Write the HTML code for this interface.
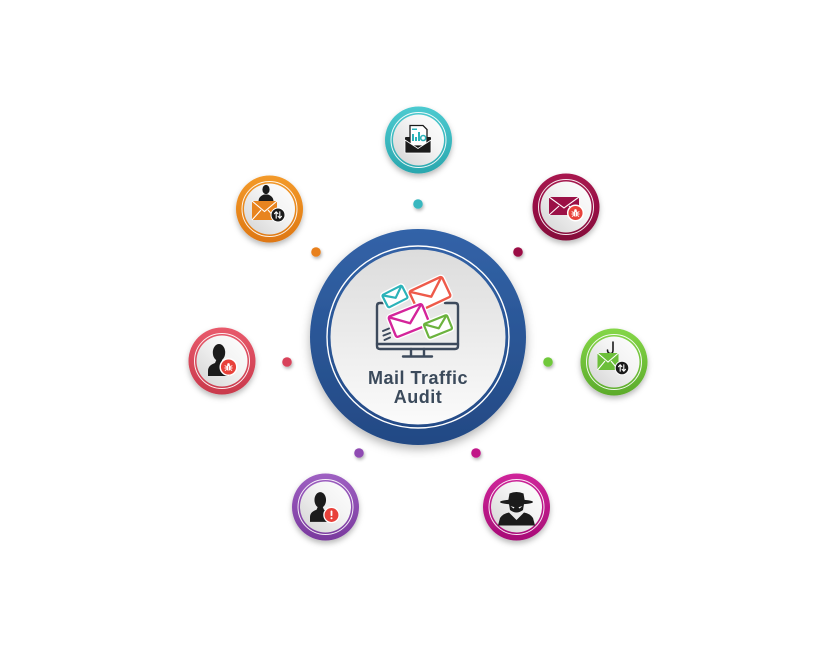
<!DOCTYPE html>
<html><head><meta charset="utf-8"><style>
html,body{margin:0;padding:0;background:#fff;}
svg{display:block;}
</style></head><body>
<svg width="835" height="659" viewBox="0 0 835 659" xmlns="http://www.w3.org/2000/svg">
<defs>
<filter id="sh" x="-40%" y="-40%" width="180%" height="180%"><feDropShadow dx="0" dy="3" stdDeviation="3" flood-color="#000" flood-opacity="0.28"/></filter>
<filter id="shB" x="-30%" y="-30%" width="160%" height="160%"><feDropShadow dx="0" dy="4" stdDeviation="5" flood-color="#000" flood-opacity="0.3"/></filter>
<filter id="shD" x="-100%" y="-100%" width="300%" height="300%"><feDropShadow dx="1" dy="2" stdDeviation="1.5" flood-color="#000" flood-opacity="0.3"/></filter>
<linearGradient id="gBlue" x1="0" y1="0" x2="0" y2="1"><stop offset="0" stop-color="#3263a8"/><stop offset="1" stop-color="#234984"/></linearGradient>
<linearGradient id="gGrayC" x1="0" y1="0" x2="0" y2="1"><stop offset="0" stop-color="#dcdcdc"/><stop offset="1" stop-color="#fbfbfb"/></linearGradient>
<linearGradient id="gIn" x1="0" y1="1" x2="1" y2="0"><stop offset="0" stop-color="#d3d3d3"/><stop offset="0.6" stop-color="#f4f4f4"/><stop offset="1" stop-color="#fefefe"/></linearGradient>
<linearGradient id="gTeal" x1="0" y1="0" x2="0" y2="1"><stop offset="0" stop-color="#4ccad0"/><stop offset="1" stop-color="#2aa7ae"/></linearGradient>
<linearGradient id="gOrange" x1="0" y1="0" x2="0" y2="1"><stop offset="0" stop-color="#f39a2a"/><stop offset="1" stop-color="#de7712"/></linearGradient>
<linearGradient id="gMaroon" x1="0" y1="0" x2="0" y2="1"><stop offset="0" stop-color="#a8154f"/><stop offset="1" stop-color="#850a3a"/></linearGradient>
<linearGradient id="gRed" x1="0" y1="0" x2="0" y2="1"><stop offset="0" stop-color="#e85a6b"/><stop offset="1" stop-color="#c9394c"/></linearGradient>
<linearGradient id="gGreen" x1="0" y1="0" x2="0" y2="1"><stop offset="0" stop-color="#84d647"/><stop offset="1" stop-color="#5cab2b"/></linearGradient>
<linearGradient id="gPurple" x1="0" y1="0" x2="0" y2="1"><stop offset="0" stop-color="#9e60c2"/><stop offset="1" stop-color="#7a399e"/></linearGradient>
<linearGradient id="gMag" x1="0" y1="0" x2="0" y2="1"><stop offset="0" stop-color="#cf259a"/><stop offset="1" stop-color="#a80d77"/></linearGradient>
<symbol id="person" viewBox="-11 0 22 32" overflow="visible">
<ellipse cx="0" cy="8.5" rx="6.2" ry="8.5" fill="#1b1b1b"/>
<path d="M-11,32 L-11,27 C-11,22.5 -8,20.5 -4,19 L-2.5,15.5 L2.5,15.5 L4,19 C8,20.5 11,22.5 11,27 L11,32 Z" fill="#1b1b1b"/>
</symbol>
<symbol id="bug" viewBox="-5 -5 10 10" overflow="visible">
<ellipse cx="0" cy="0.8" rx="2.3" ry="3" fill="#fff"/>
<circle cx="0" cy="-2.6" r="1.3" fill="#fff"/>
<path d="M-2.2,-0.5 L-3.8,-1.5 M2.2,-0.5 L3.8,-1.5 M-2.3,1 L-4,1 M2.3,1 L4,1 M-2,2.5 L-3.6,3.6 M2,2.5 L3.6,3.6" stroke="#fff" stroke-width="0.9" fill="none"/>
<line x1="0" y1="-1" x2="0" y2="3.6" stroke="#e8413a" stroke-width="0.6"/>
</symbol>
<symbol id="arrows" viewBox="-5 -5 10 10" overflow="visible">
<path d="M-1.8,3.2 L-1.8,-3 M-3.5,-1.3 L-1.8,-3.2 L-0.1,-1.3 M1.8,-3.2 L1.8,3 M0.1,1.3 L1.8,3.2 L3.5,1.3" stroke="#fff" stroke-width="1.1" fill="none" stroke-linecap="round" stroke-linejoin="round"/>
</symbol>
</defs>

<rect width="835" height="659" fill="#fff"/>

<!-- dots -->
<circle cx="418" cy="204" r="4.8" fill="#38b7bf" filter="url(#shD)"/>
<circle cx="316" cy="252" r="4.8" fill="#e8801e" filter="url(#shD)"/>
<circle cx="518" cy="252" r="4.8" fill="#9b0f45" filter="url(#shD)"/>
<circle cx="287" cy="362" r="4.8" fill="#d8425a" filter="url(#shD)"/>
<circle cx="548" cy="362" r="4.8" fill="#6fc83b" filter="url(#shD)"/>
<circle cx="359" cy="453" r="4.8" fill="#8f4cb2" filter="url(#shD)"/>
<circle cx="476" cy="453" r="4.8" fill="#c11488" filter="url(#shD)"/>

<!-- center -->
<circle cx="418" cy="337" r="108" fill="url(#gBlue)" filter="url(#shB)"/>
<circle cx="418" cy="337" r="91" fill="none" stroke="#fff" stroke-width="1.4"/>
<circle cx="418" cy="337" r="87.5" fill="url(#gGrayC)"/>

<!-- monitor -->
<g stroke="#3d4a5c" stroke-width="2.4" fill="none" stroke-linecap="round" stroke-linejoin="round">
<path d="M392,303 L380,303 Q377,303 377,306 L377,346 Q377,349 380,349 L455,349 Q458,349 458,346 L458,306 Q458,303 455,303 L445,303"/>
<line x1="377" y1="344" x2="458" y2="344"/>
<path d="M411,349 L411,356 M424,349 L424,356"/>
<line x1="403" y1="356.5" x2="432" y2="356.5"/>
<path d="M383,331 L389,328.5 M383.5,335.5 L390,333 M384.5,340 L390,337.5" stroke-width="2"/>
</g>
<!-- envelopes -->
<g transform="translate(395,296.5) rotate(-27)">
<rect x="-11" y="-7" width="22" height="14" rx="1.5" fill="#fff" stroke="#fff" stroke-width="5"/>
<rect x="-11" y="-7" width="22" height="14" rx="1.5" fill="#fff" stroke="#2bb3b9" stroke-width="2.2"/>
<path d="M-11,-7 L0,1.5 L11,-7" fill="none" stroke="#2bb3b9" stroke-width="2.2" stroke-linejoin="round"/>
</g>
<g transform="translate(430,294) rotate(-25)">
<rect x="-18" y="-11" width="36" height="22" rx="2" fill="#fff" stroke="#fff" stroke-width="5"/>
<rect x="-18" y="-11" width="36" height="22" rx="2" fill="#fff" stroke="#ee5a4a" stroke-width="2.4"/>
<path d="M-18,-11 L0,3 L18,-11" fill="none" stroke="#ee5a4a" stroke-width="2.4" stroke-linejoin="round"/>
</g>
<g transform="translate(409,320.5) rotate(-22)">
<rect x="-18" y="-11" width="36" height="22" rx="2" fill="#fff" stroke="#fff" stroke-width="5"/>
<rect x="-18" y="-11" width="36" height="22" rx="2" fill="#fff" stroke="#d4249a" stroke-width="2.4"/>
<path d="M-18,-11 L0,3 L18,-11" fill="none" stroke="#d4249a" stroke-width="2.4" stroke-linejoin="round"/>
</g>
<g transform="translate(438,326.5) rotate(-22)">
<rect x="-12.5" y="-7.5" width="25" height="15" rx="1.5" fill="#fff" stroke="#fff" stroke-width="5"/>
<rect x="-12.5" y="-7.5" width="25" height="15" rx="1.5" fill="#fff" stroke="#6cb33e" stroke-width="2.2"/>
<path d="M-12.5,-7.5 L0,2 L12.5,-7.5" fill="none" stroke="#6cb33e" stroke-width="2.2" stroke-linejoin="round"/>
</g>

<text x="418" y="384" text-anchor="middle" font-family="'Liberation Sans', sans-serif" font-weight="bold" font-size="18" letter-spacing="0.5" fill="#3b4a5b">Mail Traffic</text>
<text x="418" y="403" text-anchor="middle" font-family="'Liberation Sans', sans-serif" font-weight="bold" font-size="18" letter-spacing="0.5" fill="#3b4a5b">Audit</text>

<!-- teal satellite -->
<circle cx="418.5" cy="140" r="33.5" fill="url(#gTeal)" filter="url(#sh)"/>
<circle cx="418.5" cy="140" r="27.5" fill="none" stroke="#fff" stroke-width="1" opacity="0.9"/>
<circle cx="418.5" cy="140" r="25.5" fill="url(#gIn)"/>
<rect x="405" y="137" width="26" height="16" rx="1" fill="#1b1b1b"/>
<path d="M410,125.5 L423,125.5 L427,129.5 L427,146 L410,146 Z" fill="#fff" stroke="#1b1b1b" stroke-width="1.3"/>
<rect x="412" y="128.5" width="5" height="1.5" fill="#2bb3b9"/>
<rect x="412" y="134" width="2" height="7" fill="#2bb3b9"/>
<rect x="415" y="137" width="2" height="4" fill="#2bb3b9"/>
<rect x="418" y="132" width="2" height="9" fill="#2bb3b9"/>
<circle cx="423.2" cy="138" r="2.5" fill="none" stroke="#2bb3b9" stroke-width="1.6"/>
<path d="M405,140 L418,148.5 L431,140 L431,152 Q431,153 430,153 L406,153 Q405,153 405,152 Z" fill="#1b1b1b" stroke="#fff" stroke-width="0.8"/>

<!-- orange satellite -->
<circle cx="269.5" cy="209" r="33.5" fill="url(#gOrange)" filter="url(#sh)"/>
<circle cx="269.5" cy="209" r="27.5" fill="none" stroke="#fff" stroke-width="1" opacity="0.9"/>
<circle cx="269.5" cy="209" r="25.5" fill="url(#gIn)"/>
<ellipse cx="266" cy="189.5" rx="3.6" ry="4.6" fill="#1b1b1b"/>
<path d="M258.5,201.5 C258.5,197 261.5,195.5 264,194.5 L268,194.5 C270.5,195.5 273.5,197 273.5,201.5 Z" fill="#1b1b1b"/>
<rect x="252" y="201" width="25" height="19" fill="#e8841f"/>
<path d="M252,201 L264.5,211.5 L277,201 M252,220 L261,210 M277,220 L268,210" stroke="#fff" stroke-width="1.1" fill="none"/>
<circle cx="278" cy="215" r="7" fill="#1b1b1b" stroke="#fff" stroke-width="1"/>
<use href="#arrows" x="273" y="210" width="10" height="10"/>

<!-- maroon satellite -->
<circle cx="566" cy="207" r="33.5" fill="url(#gMaroon)" filter="url(#sh)"/>
<circle cx="566" cy="207" r="27.5" fill="none" stroke="#fff" stroke-width="1" opacity="0.9"/>
<circle cx="566" cy="207" r="25.5" fill="url(#gIn)"/>
<rect x="549" y="197" width="30" height="18" fill="#9b1046"/>
<path d="M549,197 L564,208 L579,197 M549,215 L559,206 M579,215 L569,206" stroke="#fff" stroke-width="1.1" fill="none"/>
<circle cx="575.5" cy="213" r="7.8" fill="#e8413a" stroke="#fff" stroke-width="1.5"/>
<use href="#bug" x="570.5" y="208" width="10" height="10"/>

<!-- red satellite -->
<circle cx="222" cy="361" r="33.5" fill="url(#gRed)" filter="url(#sh)"/>
<circle cx="222" cy="361" r="27.5" fill="none" stroke="#fff" stroke-width="1" opacity="0.9"/>
<circle cx="222" cy="361" r="25.5" fill="url(#gIn)"/>
<use href="#person" x="208" y="344" width="22" height="32"/>
<circle cx="228.5" cy="367" r="8.3" fill="#e8413a" stroke="#fff" stroke-width="1.5"/>
<use href="#bug" x="223.5" y="362" width="10" height="10"/>

<!-- green satellite -->
<circle cx="614" cy="362" r="33.5" fill="url(#gGreen)" filter="url(#sh)"/>
<circle cx="614" cy="362" r="27.5" fill="none" stroke="#fff" stroke-width="1" opacity="0.9"/>
<circle cx="614" cy="362" r="25.5" fill="url(#gIn)"/>
<path d="M613,342 L613,350 Q613,354 610,353.5 Q607.5,353 607.5,350" stroke="#1b1b1b" stroke-width="1.6" fill="none" stroke-linecap="round"/>
<rect x="597.5" y="353" width="21" height="17" fill="#6cbf3a"/>
<path d="M597.5,353 L608,362 L618.5,353 M597.5,370 L605,361 M618.5,370 L611,361" stroke="#fff" stroke-width="1.1" fill="none"/>
<circle cx="622" cy="368" r="6.8" fill="#1b1b1b" stroke="#fff" stroke-width="1"/>
<use href="#arrows" x="617" y="363" width="10" height="10"/>

<!-- purple satellite -->
<circle cx="325.5" cy="507" r="33.5" fill="url(#gPurple)" filter="url(#sh)"/>
<circle cx="325.5" cy="507" r="27.5" fill="none" stroke="#fff" stroke-width="1" opacity="0.9"/>
<circle cx="325.5" cy="507" r="25.5" fill="url(#gIn)"/>
<use href="#person" x="310" y="492" width="20.5" height="30"/>
<circle cx="331.5" cy="515" r="7.6" fill="#e8413a" stroke="#fff" stroke-width="1.3"/>
<rect x="330.6" y="510.5" width="1.8" height="5.5" rx="0.8" fill="#fff"/>
<circle cx="331.5" cy="518.3" r="1" fill="#fff"/>

<!-- magenta satellite -->
<circle cx="516.5" cy="507" r="33.5" fill="url(#gMag)" filter="url(#sh)"/>
<circle cx="516.5" cy="507" r="27.5" fill="none" stroke="#fff" stroke-width="1" opacity="0.9"/>
<circle cx="516.5" cy="507" r="25.5" fill="url(#gIn)"/>
<path d="M508,502 L509.5,493.5 Q516.5,490.5 523.5,493.5 L525,502 Z" fill="#1b1b1b"/>
<ellipse cx="516.5" cy="502" rx="16.5" ry="2.5" fill="#1b1b1b"/>
<path d="M509,504 L524,504 L523,510 Q516.5,515 510,510 Z" fill="#1b1b1b"/>
<path d="M510.5,506 L514.5,507.3 L513.5,508.5 Z M522.5,506 L518.5,507.3 L519.5,508.5 Z" fill="#fff"/>
<path d="M498,525.5 L500,518 Q503,513.5 509,512.5 L516.5,520 L524,512.5 Q530,513.5 533,518 L535,525.5 Z" fill="#1b1b1b"/>
</svg>
</body></html>
